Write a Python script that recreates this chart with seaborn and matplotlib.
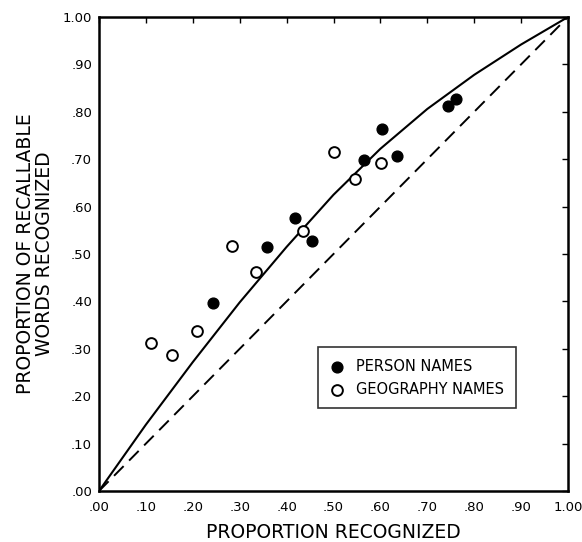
import matplotlib
matplotlib.use("Agg")
import matplotlib.pyplot as plt
import seaborn as sns
import pandas as pd

# ---- data ----
person_x = [0.243, 0.359, 0.417, 0.455, 0.564, 0.604, 0.635, 0.745, 0.762]
person_y = [0.396, 0.515, 0.576, 0.527, 0.698, 0.763, 0.707, 0.812, 0.828]
geo_x = [0.110, 0.156, 0.208, 0.284, 0.335, 0.435, 0.502, 0.545, 0.601]
geo_y = [0.312, 0.287, 0.338, 0.517, 0.462, 0.548, 0.716, 0.658, 0.693]
curve_x = [0.00, 0.10, 0.20, 0.30, 0.40, 0.50, 0.60, 0.70, 0.80, 0.90, 1.00]
curve_y = [0.00, 0.14, 0.272, 0.398, 0.515, 0.625, 0.722, 0.806, 0.878, 0.942, 1.00]
diag_x = [0.0, 1.0]
diag_y = [0.0, 1.0]
tick_vals = [0.0, 0.1, 0.2, 0.3, 0.4, 0.5, 0.6, 0.7, 0.8, 0.9, 1.0]
tick_labels = [".00", ".10", ".20", ".30", ".40", ".50", ".60", ".70", ".80", ".90", "1.00"]
series_names = ["PERSON NAMES", "GEOGRAPHY NAMES"]
x_label = "PROPORTION RECOGNIZED"
y_label = "PROPORTION OF RECALLABLE\nWORDS RECOGNIZED"

sns.set_theme(style="white")
plt.rcParams['font.family'] = ['DejaVu Sans']
plt.rcParams['text.color'] = 'black'
plt.rcParams['axes.labelcolor'] = 'black'

fig = plt.figure(figsize=(5.82, 5.42), dpi=100)
ax = fig.add_axes([99 / 582, 1 - 491 / 542, 469 / 582, 474 / 542])

person = pd.DataFrame({"x": person_x, "y": person_y})
geo = pd.DataFrame({"x": geo_x, "y": geo_y})
curve = pd.DataFrame({"x": curve_x, "y": curve_y})
diag = pd.DataFrame({"x": diag_x, "y": diag_y})

sns.lineplot(data=curve, x="x", y="y", ax=ax, color="black", lw=1.5,
             sort=False, estimator=None, legend=False)
sns.lineplot(data=diag, x="x", y="y", ax=ax, color="black", lw=1.4,
             sort=False, estimator=None, legend=False)
ax.lines[-1].set_dashes([7, 4])

sns.scatterplot(data=person, x="x", y="y", ax=ax, s=60, color="black",
                edgecolor="black", linewidth=1.0, label=series_names[0], zorder=5)
sns.scatterplot(data=geo, x="x", y="y", ax=ax, s=60, facecolor="white",
                edgecolor="black", linewidth=1.4, label=series_names[1], zorder=5)

ax.set_xlim(0, 1)
ax.set_ylim(0, 1)
ax.set_xticks(tick_vals)
ax.set_xticklabels(tick_labels)
ax.set_yticks(tick_vals)
ax.set_yticklabels(tick_labels)
ax.tick_params(direction="in", length=4, width=1.0, top=True, right=True,
               labelsize=9.5, colors="black", pad=5)
ax.tick_params(axis="x", pad=7)
for sp in ax.spines.values():
    sp.set_color("black")
    sp.set_linewidth(1.8)

ax.set_xlabel(x_label, fontsize=13.5, labelpad=7, color="black")
ax.set_ylabel(y_label, fontsize=13.5, labelpad=6, color="black", linespacing=1.05)

leg = ax.legend(loc="upper left", bbox_to_anchor=(219 / 469, (491 - 347) / 474),
                frameon=True, fancybox=False, fontsize=10.5, handletextpad=0.8,
                borderpad=0.8, labelspacing=0.55, handlelength=1.0,
                borderaxespad=0, labelcolor="black")
leg.get_frame().set_edgecolor("black")
leg.get_frame().set_linewidth(1.2)

fig.savefig("out.png", dpi=100)
